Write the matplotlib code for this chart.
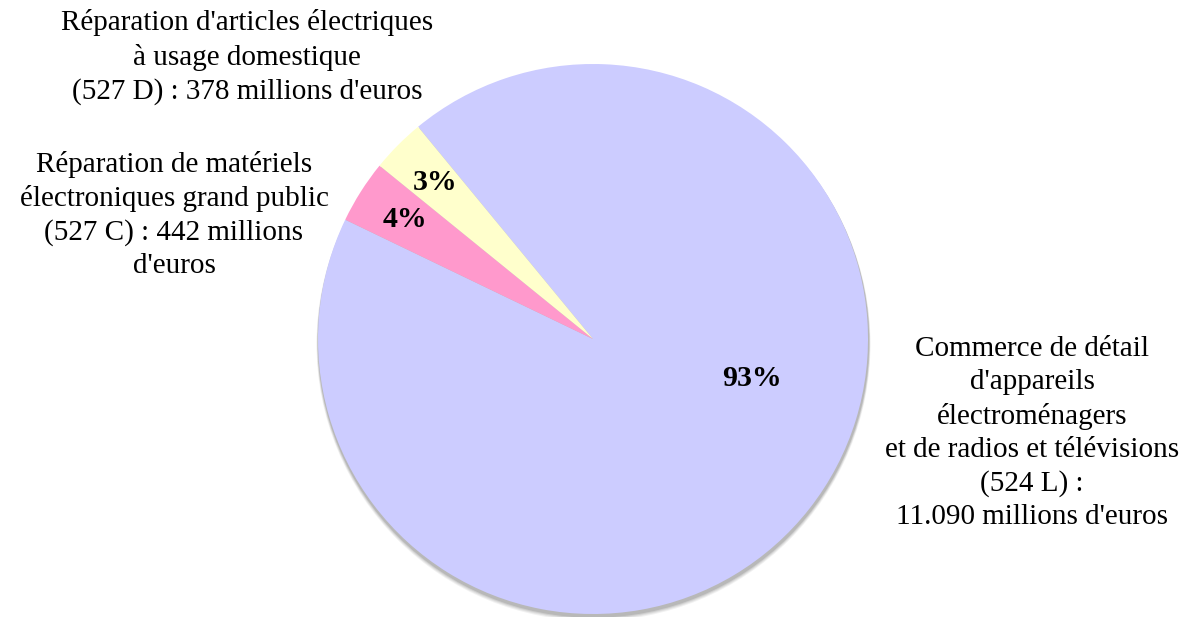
import matplotlib.pyplot as plt
import matplotlib.patches as mpatches

# data
labels = [
    "Commerce de détail\nd'appareils\nélectroménagers\net de radios et télévisions\n(524 L) :\n11.090 millions d'euros",
    "Réparation de matériels\nélectroniques grand public\n(527 C) : 442 millions\nd'euros",
    "Réparation d'articles électriques\nà usage domestique\n(527 D) : 378 millions d'euros",
]
values = [11090, 442, 378]
colors = ['#CCCCFF', '#FF99CC', '#FFFFCC']

plt.rcParams['font.family'] = ['Liberation Serif', 'DejaVu Serif']

W, H = 1192, 617
fig = plt.figure( figsize = ( W / 100, H / 100 ), dpi = 100 )
ax = fig.add_axes( [0, 0, 1, 1] )

cx, cy, r = 593, H - 339, 275

# soft shadow under the pie
for i, a in enumerate( [0.08, 0.10, 0.13, 0.18] ):
    d = 5 - i
    ax.add_patch( mpatches.Circle( ( cx + 0.5, cy - 1.5 - d * 0.7 ), r + d * 0.4,
                                  color = '#555555', alpha = a, lw = 0, zorder = 0 ) )

wedges, texts, autotexts = ax.pie( values, colors = colors, startangle = 129.5,
                                  counterclock = False, center = ( cx, cy ),
                                  radius = r, autopct = '%.0f%%', pctdistance = 0.81,
                                  wedgeprops = dict( linewidth = 0 ),
                                  textprops = dict( fontsize = 21.5, fontweight = 'bold' ) )
for w in wedges:
    w.set_zorder( 2 )
for t in autotexts:
    t.set_zorder( 3 )
# the big share label sits off the slice middle
autotexts[0].set_position( ( 752, H - 378 ) )

label_pos = [( 1032, H - 433 ), ( 174, H - 215 ), ( 247, H - 57 )]
for txt, ( x, y ) in zip( labels, label_pos ):
    ax.text( x, y, txt, ha = 'center', va = 'center', fontsize = 21,
            linespacing = 1.35, multialignment = 'center' )

ax.set_xlim( 0, W )
ax.set_ylim( 0, H )
ax.set_aspect( 'equal' )
ax.axis( 'off' )

fig.savefig( 'out.png', dpi = 100 )
